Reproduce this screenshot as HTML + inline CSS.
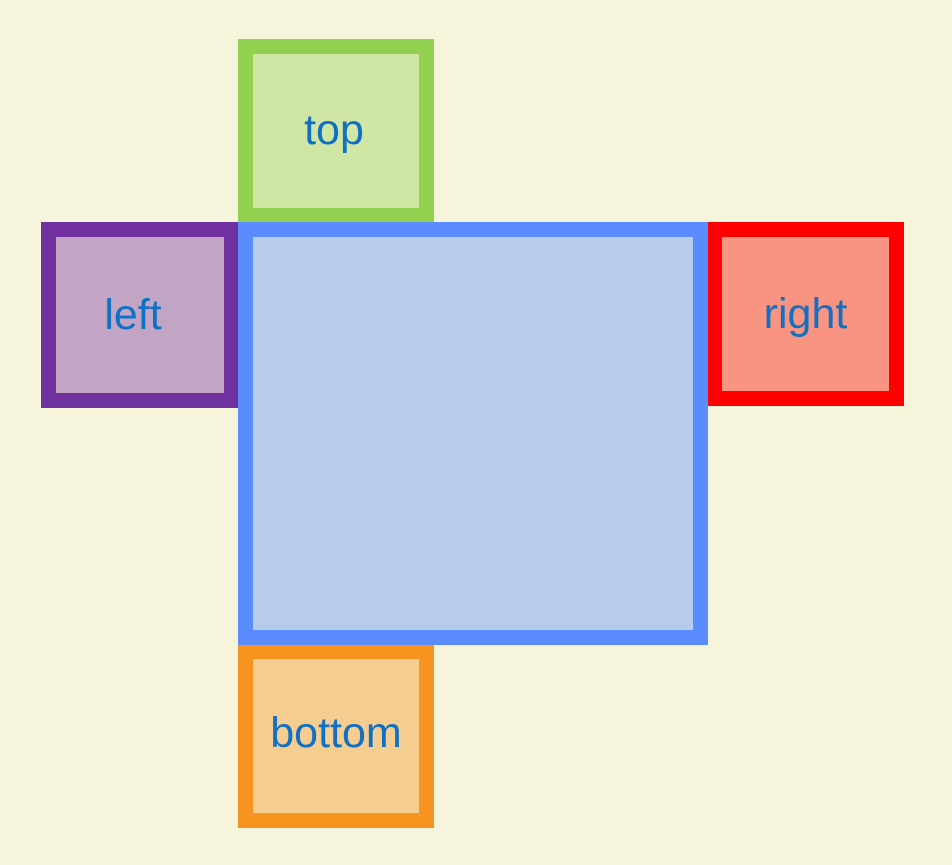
<!DOCTYPE html>
<html><head><meta charset="utf-8"><style>
html,body{margin:0;padding:0;}
body{width:952px;height:865px;background:#f6f5dc;position:relative;overflow:hidden;font-family:"Liberation Sans",sans-serif;}
.b{position:absolute;box-sizing:border-box;border:15px solid;display:flex;align-items:center;justify-content:center;color:#0f70c4;font-size:43px;}
</style></head><body>
<div class="b" style="left:238px;top:39px;width:196px;height:184px;border-color:#92d050;background:#d0e6a5;padding:0 4px 2px 0;">top</div>
<div class="b" style="left:41px;top:222px;width:198px;height:186px;border-color:#7030a0;background:#c2a5c5;padding-right:14px;">left</div>
<div class="b" style="left:707px;top:222px;width:197px;height:184px;border-color:#ff0000;background:#f99382;">right</div>
<div class="b" style="left:238px;top:644px;width:196px;height:184px;border-color:#f7931e;background:#f5cd90;padding-bottom:6px;">bottom</div>
<div class="b" style="left:238px;top:222px;width:470px;height:423px;border-color:#5b8cff;background:#b7cced;"></div>
</body></html>
